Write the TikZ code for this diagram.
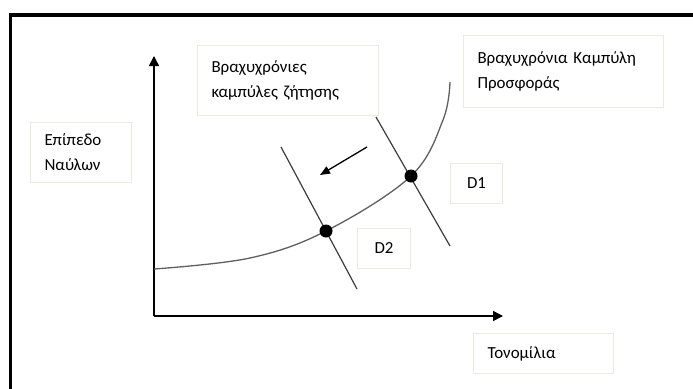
\documentclass[tikz,border=0pt]{standalone}
\usepackage{fontspec}
\setmainfont{Carlito}
\usetikzlibrary{arrows.meta, positioning}

\definecolor{boxline}{RGB}{236,234,222}
\definecolor{curvegray}{RGB}{95,95,95}
\definecolor{demandgray}{RGB}{60,60,60}

\begin{document}
\begin{tikzpicture}[
    x=1pt, y=-1pt,
    font=\fontsize{16.9}{25}\selectfont,
    labelbox/.style={
        rectangle,
        draw=boxline, line width=1pt,
        fill=white,
        align=left,
        inner xsep=14pt,
        inner ysep=0pt,
        anchor=north west
    },
    tagbox/.style={
        labelbox,
        align=center,
        inner xsep=0pt,
        minimum height=40pt
    },
    axisline/.style={line width=1.5pt, -{Triangle[length=10pt, width=10pt]}},
    supply/.style={curvegray, line width=1.3pt},
    demand/.style={demandgray, line width=1.2pt},
    shiftline/.style={line width=1.3pt, -{Triangle[length=10pt, width=8pt]}},
    dotnode/.style={circle, fill=black, inner sep=0pt, minimum size=13pt}
]
\useasboundingbox (0,0) rectangle (693,388);

% Frame
\draw[line width=3.3pt] (10.7,390) -- (10.7,15) -- (695,15);

% Axes
\coordinate (origin) at (154,316);
\coordinate (ytip) at (154,56);
\coordinate (xtip) at (503,316);
\draw[axisline] (origin) -- (ytip);
\draw[axisline] (origin) -- (xtip);

% Supply curve
\draw[supply] plot[smooth, tension=0.6] coordinates
    {(154,269) (250,258) (326,231) (411,176) (443,120) (450,82)};

% Demand curves
\coordinate (d1top) at (376,117);
\coordinate (d1end) at (450,246);
\coordinate (d2top) at (281,147);
\coordinate (d2end) at (357,289);
\draw[demand] (d1top) -- (d1end);
\draw[demand] (d2top) -- (d2end);

\node[dotnode] (p1) at (411,176) {};
\node[dotnode] (p2) at (326,231) {};

% Shift
\coordinate (shiftstart) at (367,147);
\coordinate (shiftend) at (320,175);
\draw[shiftline] (shiftstart) -- (shiftend);

% Labels
\node[labelbox, text width=73pt, minimum height=60pt] (level) at (30,122)
    {Επίπεδο\\Ναύλων};

\node[labelbox, text width=153pt, minimum height=70pt] (demandtext) at (197,45)
    {Βραχυχρόνιες\\καμπύλες ζήτησης};

\node[labelbox, text width=172pt, minimum height=72pt] (supplytext) at (463,35)
    {Βραχυχρόνια Καμπύλη\\Προσφοράς};

\node[tagbox, minimum width=52pt] (d1text) at (450,163) {D1};
\node[tagbox, minimum width=53pt] (d2text) at (357,228) {D2};

\node[labelbox, text width=112pt, minimum height=40pt] (xtext) at (473,333)
    {Τονομίλια};

\end{tikzpicture}
\end{document}
